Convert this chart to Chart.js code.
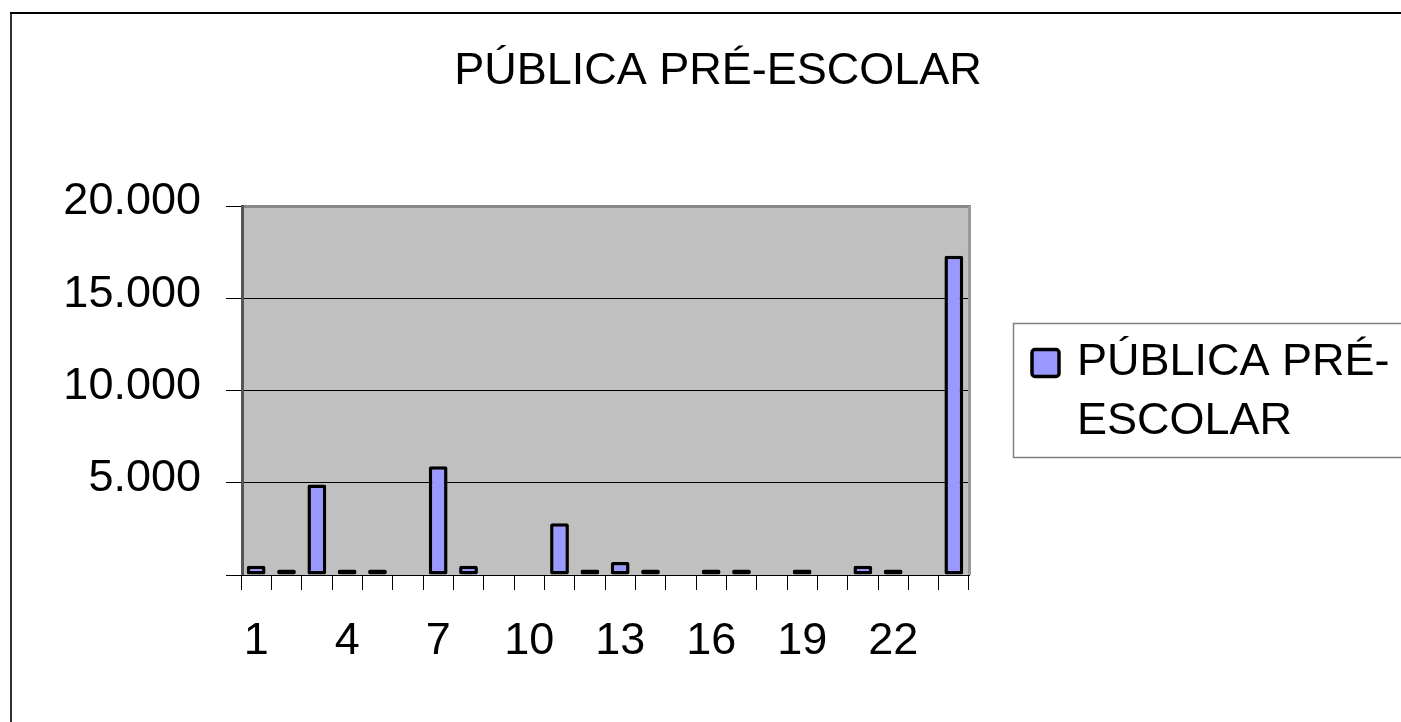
<!DOCTYPE html>
<html>
<head>
<meta charset="utf-8">
<script src="https://cdn.jsdelivr.net/npm/chart.js@4"></script>
<style>
  html, body { margin: 0; padding: 0; background: #fff; }
  canvas { display: block; }
</style>
</head>
<body>
<canvas id="chart" width="1401" height="722"></canvas>
<script>
// Chart data
const chartTitle = 'PÚBLICA PRÉ-ESCOLAR';
const seriesName = 'PÚBLICA PRÉ-ESCOLAR';
const legendLines = ['PÚBLICA PRÉ-', 'ESCOLAR'];
const categories = ['1', '2', '3', '4', '5', '6', '7', '8', '9', '10', '11', '12',
  '13', '14', '15', '16', '17', '18', '19', '20', '21', '22', '23', '24'];
const values = [500, 300, 4900, 300, 300, 0, 5900, 500, 0, 0, 2800, 300,
  700, 300, 0, 300, 300, 0, 300, 0, 500, 300, 0, 17300];
const shownLabels = ['1', '4', '7', '10', '13', '16', '19', '22'];
const yTicks = [0, 5000, 10000, 15000, 20000];

const FONT = "'Liberation Sans', Arial, sans-serif";
const BAR_COLOR = '#9999ff';

function formatThousands(v) {
  return String(v).replace(/\B(?=(\d{3})+(?!\d))/g, '.');
}

// Excel-like frame, grey plot area, title and legend box
const excelLook = {
  id: 'excelLook',
  beforeDraw(chart) {
    const { ctx, chartArea: a } = chart;
    ctx.save();
    ctx.fillStyle = '#ffffff';
    ctx.fillRect(0, 0, chart.width, chart.height);
    // outer chart frame (only left and top visible)
    ctx.fillStyle = '#333333';
    ctx.fillRect(10, 12, 2, chart.height);
    ctx.fillStyle = '#000000';
    ctx.fillRect(10, 12, chart.width, 2);
    // plot area
    ctx.fillStyle = '#c0c0c0';
    ctx.fillRect(a.left, a.top, a.right - a.left, a.bottom - a.top);
    ctx.restore();
  },
  afterDraw(chart) {
    const { ctx, chartArea: a } = chart;
    ctx.save();
    // plot area border
    ctx.fillStyle = '#888888';
    ctx.fillRect(a.left, a.top - 1, a.right - a.left + 2, 3);
    ctx.fillStyle = '#999999';
    ctx.fillRect(a.right - 1, a.top, 3, a.bottom - a.top);
    ctx.fillStyle = '#555555';
    ctx.fillRect(a.left, a.top - 1, 3, a.bottom - a.top + 1);

    // title
    ctx.fillStyle = '#000';
    ctx.font = '45px ' + FONT;
    ctx.textAlign = 'center';
    ctx.textBaseline = 'alphabetic';
    ctx.fillText(chartTitle, 718, 84);

    // legend
    ctx.strokeStyle = '#808080';
    ctx.lineWidth = 1.5;
    ctx.strokeRect(1013.5, 323.5, 500, 134);
    ctx.beginPath();
    ctx.roundRect(1032, 349.5, 27, 27, 3);
    ctx.fillStyle = BAR_COLOR;
    ctx.fill();
    ctx.lineWidth = 3.5;
    ctx.strokeStyle = '#000';
    ctx.stroke();
    ctx.fillStyle = '#000';
    ctx.textAlign = 'left';
    legendLines.forEach((line, i) => {
      ctx.fillText(line, 1077, 375 + i * 59);
    });
    ctx.restore();
  }
};

new Chart(document.getElementById('chart'), {
  type: 'bar',
  data: {
    labels: categories,
    datasets: [{
      label: seriesName,
      data: values,
      backgroundColor: BAR_COLOR,
      borderColor: '#000000',
      borderWidth: 3.5,
      borderRadius: 2,
      borderSkipped: false,
      categoryPercentage: 1,
      barPercentage: 0.62
    }]
  },
  options: {
    responsive: false,
    animation: false,
    layout: {
      padding: { top: 206, right: 432, bottom: 0, left: 0 }
    },
    plugins: {
      legend: { display: false },
      title: { display: false },
      tooltip: { enabled: false }
    },
    scales: {
      x: {
        grid: {
          offset: true,
          drawOnChartArea: false,
          color: '#000000',
          lineWidth: 1,
          tickLength: 15
        },
        border: { color: '#000000', width: 1 },
        ticks: {
          autoSkip: false,
          maxRotation: 0,
          padding: 25,
          color: '#000000',
          font: { family: FONT, size: 45 },
          callback: function(value, index) {
            const label = categories[index];
            return shownLabels.includes(label) ? label : '';
          }
        },
        afterFit: function(scale) { scale.height = 147; }
      },
      y: {
        min: 0,
        max: 20000,
        afterBuildTicks: function(scale) {
          scale.ticks = yTicks.map(v => ({ value: v }));
        },
        grid: {
          color: '#000000',
          lineWidth: 1,
          tickLength: 15
        },
        border: { display: false },
        ticks: {
          padding: 25,
          labelOffset: -4,
          color: '#000000',
          font: { family: FONT, size: 45 },
          callback: function(value) {
            return value === 0 ? '' : formatThousands(value);
          }
        },
        afterFit: function(scale) { scale.width = 241; }
      }
    }
  },
  plugins: [excelLook]
});
</script>
</body>
</html>
